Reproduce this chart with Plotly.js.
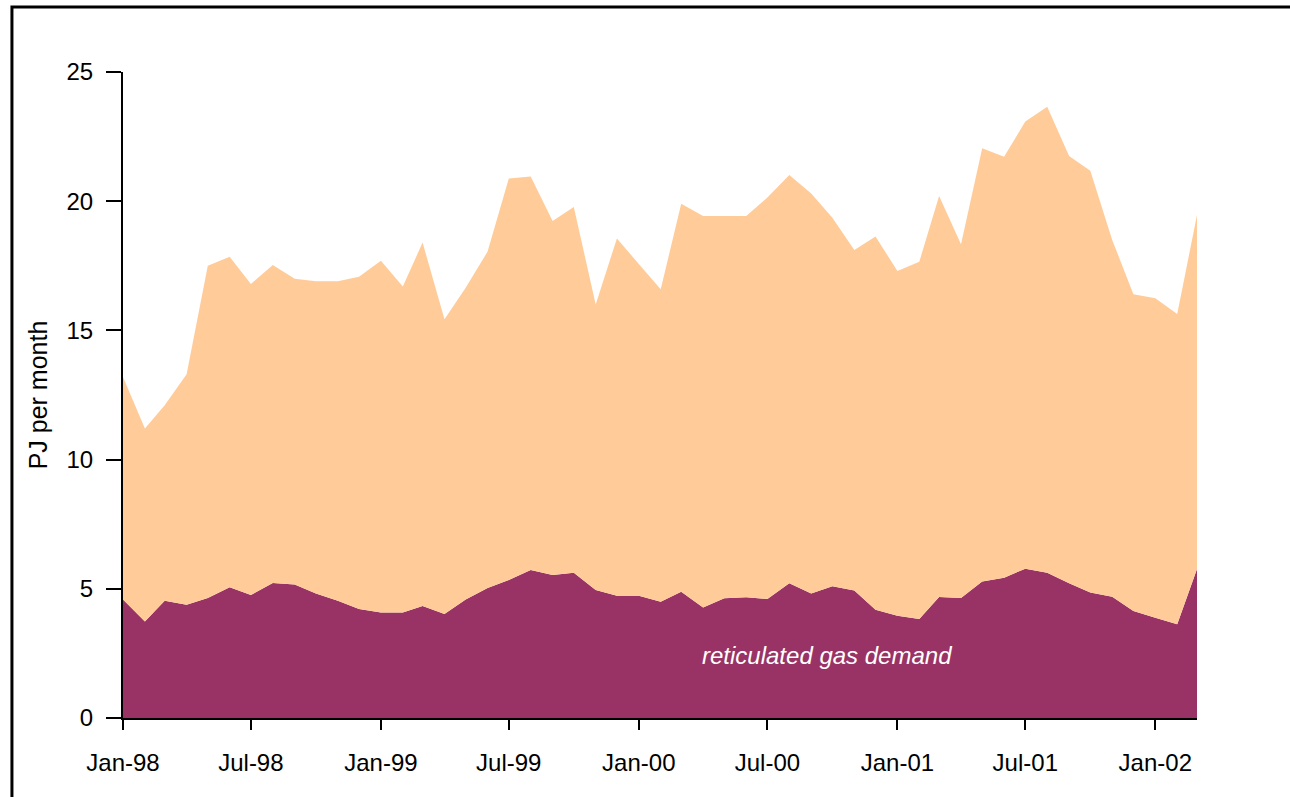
<!DOCTYPE html>
<html>
<head>
<meta charset="utf-8">
<script src="https://cdn.plot.ly/plotly-3.0.1.min.js"></script>
<style>
html,body{margin:0;padding:0;background:#fff;}
#chart{width:1290px;height:797px;}
</style>
</head>
<body>
<div id="chart"></div>
<script>
// Monthly dates Jan-98 .. Mar-02
const months = [
 "1998-01-01","1998-02-01","1998-03-01","1998-04-01","1998-05-01","1998-06-01","1998-07-01","1998-08-01","1998-09-01","1998-10-01","1998-11-01","1998-12-01",
 "1999-01-01","1999-02-01","1999-03-01","1999-04-01","1999-05-01","1999-06-01","1999-07-01","1999-08-01","1999-09-01","1999-10-01","1999-11-01","1999-12-01",
 "2000-01-01","2000-02-01","2000-03-01","2000-04-01","2000-05-01","2000-06-01","2000-07-01","2000-08-01","2000-09-01","2000-10-01","2000-11-01","2000-12-01",
 "2001-01-01","2001-02-01","2001-03-01","2001-04-01","2001-05-01","2001-06-01","2001-07-01","2001-08-01","2001-09-01","2001-10-01","2001-11-01","2001-12-01",
 "2002-01-01","2002-02-01","2002-03-01"
];
// Reticulated gas demand (PJ per month)
const reticulated = [
 4.59,3.73,4.54,4.38,4.64,5.06,4.76,5.22,5.17,4.82,4.54,4.22,
 4.08,4.08,4.33,4.02,4.59,5.03,5.34,5.73,5.53,5.62,4.95,4.73,
 4.73,4.50,4.89,4.28,4.63,4.67,4.61,5.21,4.82,5.10,4.93,4.19,
 3.96,3.83,4.68,4.64,5.28,5.43,5.78,5.62,5.21,4.86,4.69,4.14,
 3.88,3.63,5.77
];
// Total gas demand (PJ per month)
const total = [
 13.2,11.2,12.1,13.3,17.5,17.85,16.8,17.53,17.0,16.9,16.9,17.08,
 17.7,16.7,18.4,15.43,16.65,18.05,20.88,20.96,19.23,19.78,16.0,18.56,
 17.57,16.59,19.9,19.43,19.43,19.43,20.14,21.01,20.3,19.36,18.11,18.63,
 17.3,17.66,20.2,18.33,22.05,21.72,23.08,23.66,21.75,21.18,18.5,16.4,
 16.24,15.63,19.47
];
const tickDates = ["1998-01-01","1998-07-01","1999-01-01","1999-07-01","2000-01-01","2000-07-01","2001-01-01","2001-07-01","2002-01-01"];
const tickLabels = ["Jan-98","Jul-98","Jan-99","Jul-99","Jan-00","Jul-00","Jan-01","Jul-01","Jan-02"];
const yTicks = [0,5,10,15,20,25];
const labelText = "reticulated gas demand";
const yTitle = "PJ per month";

const font = "Liberation Sans, Arial, sans-serif";

const traces = [
 {x: months, y: reticulated, type: "scatter", mode: "lines", fill: "tozeroy",
  fillcolor: "#993366", line: {width: 0, color: "#993366"}, hoverinfo: "x+y", name: "reticulated"},
 {x: months, y: total, type: "scatter", mode: "lines", fill: "tonexty",
  fillcolor: "#FFCC99", line: {width: 0, color: "#FFCC99"}, hoverinfo: "x+y", name: "total"}
];

const layout = {
 width: 1290, height: 797,
 margin: {l: 123, r: 93, t: 72, b: 79, pad: 0},
 paper_bgcolor: "#ffffff", plot_bgcolor: "rgba(0,0,0,0)",
 showlegend: false,
 font: {family: font, size: 24, color: "#000"},
 xaxis: {
  type: "date", range: ["1998-01-01", "2002-03-01"],
  tickmode: "array", tickvals: tickDates, ticktext: tickLabels,
  ticks: "outside", ticklen: 10, tickwidth: 2, tickcolor: "#000",
  showline: true, linecolor: "#000", linewidth: 2,
  showgrid: false, zeroline: false,
  ticklabelstandoff: 12,
  tickfont: {family: font, size: 24, color: "#000"}
 },
 yaxis: {
  range: [0, 25], tickmode: "array", tickvals: yTicks,
  ticks: "outside", ticklen: 15, tickwidth: 2, tickcolor: "#000",
  showline: true, linecolor: "#000", linewidth: 2,
  showgrid: false, zeroline: false,
  ticklabelstandoff: 8,
  tickfont: {family: font, size: 24, color: "#000"},
  title: {text: yTitle, font: {family: font, size: 25, color: "#000"}, standoff: 12}
 },
 annotations: [
  {xref: "paper", yref: "paper", x: 0.6555, y: 0.0975, text: labelText, showarrow: false,
   font: {family: font, size: 24, color: "#ffffff", style: "italic"}, xanchor: "center", yanchor: "middle"}
 ],
 shapes: [
  {type: "rect", xref: "paper", yref: "paper", x0: -0.1034, x1: 1.2, y0: -0.2, y1: 1.1007,
   line: {color: "#000", width: 3}, fillcolor: "rgba(0,0,0,0)", layer: "below"}
 ]
};

Plotly.newPlot("chart", traces, layout, {displayModeBar: false, staticPlot: true});
</script>
</body>
</html>
